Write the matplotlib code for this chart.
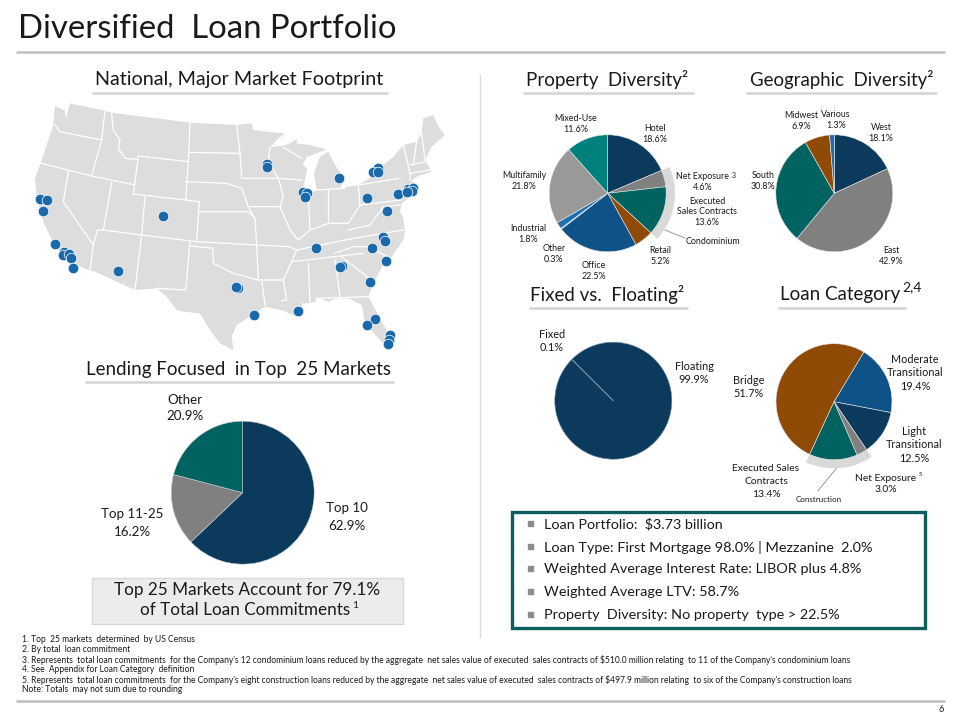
import matplotlib
matplotlib.use('Agg')
import matplotlib.pyplot as plt

plt.rcParams['font.family'] = ['Lato', 'DejaVu Sans']

NAVY = '#0b3a5c'
GRIS = '#808080'
TEAL = '#00635f'
CAFE = '#8f4a05'
AZUL = '#0f5287'
RULE = '#d4d4d4'

# pies
prop_labels = ['Hotel', 'Net Exposure', 'Executed Sales Contracts', 'Retail', 'Office',
               'Other', 'Industrial', 'Multifamily', 'Mixed-Use']
prop_values = [18.6, 4.6, 13.6, 5.2, 22.5, 0.3, 1.8, 21.8, 11.6]
prop_colors = [NAVY, GRIS, TEAL, CAFE, AZUL, '#5a7f9c', '#1f6fb0', '#999999', '#00807d']

geo_labels = ['West', 'East', 'South', 'Midwest', 'Various']
geo_values = [18.1, 42.9, 30.8, 6.9, 1.3]
geo_colors = [NAVY, GRIS, TEAL, CAFE, '#1f6fb0']

rate_labels = ['Floating', 'Fixed']
rate_values = [99.9, 0.1]

cat_labels = ['Moderate Transitional', 'Light Transitional', 'Net Exposure',
              'Executed Sales Contracts', 'Bridge']
cat_values = [19.4, 12.5, 3.0, 13.4, 51.7]
cat_colors = [AZUL, NAVY, GRIS, TEAL, CAFE]

market_labels = ['Top 10', 'Top 11-25', 'Other']
market_values = [62.9, 16.2, 20.9]
market_colors = [NAVY, GRIS, TEAL]

summary = ['Loan Portfolio:  $3.73 billion',
           'Loan Type: First Mortgage 98.0% | Mezzanine  2.0%',
           'Weighted Average Interest Rate: LIBOR plus 4.8%',
           'Weighted Average LTV: 58.7%',
           'Property  Diversity: No property  type > 22.5%']

notes = ['1. Top  25 markets  determined  by US Census',
         '2. By total  loan commitment',
         "3. Represents  total loan commitments  for the Company's 12 condominium loans reduced by the aggregate  net sales value of executed  sales contracts of $510.0 million relating  to 11 of the Company's condominium loans",
         '4. See  Appendix for Loan Category  definition',
         "5. Represents  total loan commitments  for the Company's eight construction loans reduced by the aggregate  net sales value of executed  sales contracts of $497.9 million relating  to six of the Company's construction loans",
         'Note: Totals  may not sum due to rounding']

# map, in units of a 1320x810 sheet
us_outline = [
    (150, 40), (255, 62), (275, 68), (510, 98), (650, 105), (695, 100), (700, 120), (740, 125), (795, 130),
    (770, 150), (750, 172), (800, 165), (830, 148), (830, 160), (870, 165), (920, 178), (885, 192), (860, 200),
    (848, 225), (862, 235), (848, 300), (870, 312), (890, 300), (882, 250), (900, 200), (925, 185), (945, 225),
    (975, 265), (960, 295), (1015, 285), (1055, 262), (1062, 238), (1090, 225), (1120, 200), (1150, 165),
    (1190, 155), (1205, 130), (1210, 85), (1240, 75), (1255, 110), (1275, 135), (1235, 170), (1215, 210),
    (1235, 245), (1195, 258), (1172, 272), (1195, 285), (1170, 320), (1145, 340), (1140, 365), (1150, 385),
    (1155, 425), (1150, 450), (1115, 500), (1090, 525), (1065, 570), (1045, 620), (1085, 695), (1115, 745),
    (1105, 775), (1075, 745), (1035, 700), (1025, 645), (985, 625), (950, 625), (925, 635), (890, 622),
    (885, 635), (870, 640), (845, 640), (850, 675), (830, 680), (790, 662), (735, 650), (690, 680), (650, 705),
    (635, 740), (640, 780), (600, 760), (570, 720), (540, 670), (490, 665), (470, 660), (440, 620), (410, 595),
    (345, 600), (225, 545), (205, 540), (155, 520), (105, 470), (70, 395), (50, 320), (45, 265), (60, 225),
    (100, 105), (105, 48), (135, 62), (138, 85),
]
us_x = [p[0] for p in us_outline]
us_y = [p[1] for p in us_outline]

borders = [
    [(105, 105), (120, 125), (245, 150)],
    [(255, 62), (245, 150), (215, 258)],
    [(55, 218), (215, 258), (345, 285)],
    [(275, 68), (280, 120), (300, 150), (295, 175), (315, 205), (350, 208)],
    [(355, 198), (340, 312), (497, 330)],
    [(355, 198), (505, 215)],
    [(510, 98), (505, 215), (497, 330), (538, 335), (530, 455), (365, 435), (375, 320)],
    [(275, 278), (250, 420), (365, 435), (345, 600)],
    [(145, 245), (130, 335), (220, 465), (210, 540)],
    [(250, 420), (232, 420), (220, 465)],
    [(510, 455), (497, 600), (410, 595)],
    [(510, 468), (578, 475), (580, 520), (640, 550), (715, 570), (725, 570), (735, 645)],
    [(530, 455), (710, 465), (715, 570)],
    [(535, 365), (685, 365), (705, 385), (710, 465)],
    [(497, 275), (620, 280), (665, 295), (685, 350), (705, 385)],
    [(505, 187), (660, 190)],
    [(650, 105), (660, 190), (665, 265), (775, 265), (790, 320), (780, 350), (685, 350)],
    [(750, 172), (745, 215), (775, 265), (845, 270)],
    [(790, 172), (845, 205)],
    [(780, 350), (810, 420), (835, 450), (870, 420), (865, 310)],
    [(925, 300), (925, 400)],
    [(890, 300), (975, 295)],
    [(870, 420), (925, 400), (985, 400), (1020, 345), (1015, 285), (1140, 265)],
    [(1020, 345), (1145, 330)],
    [(1150, 165), (1170, 250), (1170, 270)],
    [(1190, 155), (1180, 225)],
    [(1205, 130), (1215, 210)],
    [(1170, 225), (1215, 215)],
    [(1170, 250), (1230, 240)],
    [(830, 480), (1000, 445), (1150, 420)],
    [(985, 420), (1050, 405), (1090, 350), (1140, 345)],
    [(710, 465), (805, 470), (830, 480), (815, 515), (790, 570), (725, 570)],
    [(815, 515), (1030, 490)],
    [(790, 570), (800, 630), (785, 632)],
    [(865, 520), (870, 640)],
    [(945, 510), (960, 620)],
    [(890, 625), (1045, 620)],
    [(945, 490), (1000, 470), (1040, 470), (1115, 505)],
    [(965, 500), (1060, 575)],
]

city_x = [60, 80, 70, 105, 133, 130, 147, 152, 160, 293, 429, 655, 648, 703, 835, 740, 742, 850, 860, 855,
          887, 958, 1073, 1060, 1075, 1040, 1135, 1165, 1180, 1175, 1160, 1102, 1088, 1095, 1055, 1097,
          965, 960, 1049, 1065, 1040, 1110, 1108, 1103]
city_y = [328, 330, 362, 461, 485, 495, 492, 503, 533, 542, 377, 593, 590, 676, 662, 222, 232, 305, 310, 320,
          473, 265, 235, 245, 245, 323, 313, 298, 293, 303, 305, 362, 440, 452, 475, 514,
          528, 530, 577, 686, 705, 735, 750, 761]

fig = plt.figure(figsize=(9.6, 7.2), dpi=100)
page = fig.add_axes([0, 0, 1, 1])
page.set_xlim(0, 960)
page.set_ylim(720, 0)
page.axis('off')


def rule(x0, x1, y, color=RULE, lw=1.8):
    page.plot([x0, x1], [y, y], color=color, lw=lw, solid_capstyle='butt')


def label(x, y, s, size=6.4, ha='center', ls=1.15):
    page.text(x, y, s, fontsize=size, ha=ha, va='center', color='#1a1a1a', linespacing=ls, zorder=5)


def pie_at(cx, cy, r, values, colors, start=90, edge='#e8e8e8', halo=None):
    pad = 1.25
    ax = fig.add_axes([(cx - r * pad) / 960, 1 - (cy + r * pad) / 720, 2 * r * pad / 960, 2 * r * pad / 720])
    ax.set_zorder(2)
    if halo:
        halo_colors = ['#d9d9d9' if i in halo else (0, 0, 0, 0) for i in range(len(values))]
        ax.pie(values, colors=halo_colors, startangle=start, counterclock=False, radius=1.15)
    ax.pie(values, colors=colors, startangle=start, counterclock=False, radius=1,
           wedgeprops={'edgecolor': edge, 'linewidth': 0.4})
    ax.set_xlim(-pad, pad)
    ax.set_ylim(-pad, pad)


# frame rules
rule(16, 945, 52, '#bfbfbf', 1.8)
rule(16, 945, 701, '#bfbfbf', 1.8)
page.plot([480, 480], [75, 637], color='#dcdcdc', lw=1)
page.text(18, 29, 'Diversified  Loan Portfolio', fontsize=23.7, va='center', color='#1a1a1a')
label(941, 709, '6', 6.5)

# section heads
rule(92, 388, 93)
label(239.5, 79.5, 'National, Major Market Footprint', 14.2)
rule(523, 694, 93)
label(607, 79.5, 'Property  Diversity²', 13.5)
rule(746, 937, 93)
label(841.5, 79.5, 'Geographic  Diversity²', 13.4)
rule(529, 688, 308)
label(607.5, 294.5, 'Fixed vs.  Floating²', 13.5)
rule(778, 906, 308)
label(840, 294.5, 'Loan Category', 13.5)
label(912, 287, '2,4', 10)
rule(85, 394, 382)
label(238.5, 369.5, 'Lending Focused  in Top  25 Markets', 13.5)

# map
us = fig.add_axes([20 / 960, 1 - 360 / 720, 440 / 960, 270 / 720])
us.set_xlim(0, 1320)
us.set_ylim(810, 0)
us.axis('off')
us.fill(us_x, us_y, color='#dddddd', lw=0)
for b in borders:
    us.plot([p[0] for p in b], [p[1] for p in b], color='white', lw=0.9)
us.scatter(city_x, city_y, s=58, color='#1a6aab', edgecolor='white', linewidth=0.5, zorder=3)

# pies
pie_at(607.7, 193.3, 58.5, prop_values, prop_colors, halo=[1, 2])
pie_at(834.3, 193.3, 58.5, geo_values, geo_colors)
pie_at(613.3, 400.7, 58.5, rate_values, [NAVY, NAVY], start=135, edge='#6f8ba0')
pie_at(834, 401.7, 58, cat_values, cat_colors, start=59, halo=[2, 3])
pie_at(242.7, 492.7, 71.5, market_values, market_colors, edge='#c8d0d6')

page.plot([665, 685], [230, 238], color='#999999', lw=0.7)
page.plot([836.7, 818], [468, 490.7], color='#999999', lw=0.7)

# property labels
label(655, 134, 'Hotel\n18.6%')
label(703, 182, 'Net Exposure\n4.6%')
label(734, 175, '3', 5)
label(707, 212, 'Executed\nSales Contracts\n13.6%')
label(713, 241, 'Condominium')
label(660, 256, 'Retail\n5.2%')
label(594, 271, 'Office\n22.5%')
label(554, 254, 'Other\n0.3%')
label(528, 234, 'Industrial\n1.8%')
label(524, 181, 'Multifamily\n21.8%')
label(576, 124, 'Mixed-Use\n11.6%')

# geographic labels
label(801, 121, 'Midwest\n6.9%')
label(836, 120, 'Various\n1.3%')
label(881, 133, 'West\n18.1%')
label(891, 256, 'East\n42.9%')
label(763, 181, 'South\n30.8%')

# rate labels
label(552, 341, 'Fixed\n0.1%', 7.8, ls=1.3)
label(694, 373, 'Floating\n99.9%', 7.8, ls=1.3)

# category labels
label(749, 387, 'Bridge\n51.7%', 7.8, ls=1.3)
label(915, 373, 'Moderate\nTransitional\n19.4%', 7.8, ls=1.3)
label(914, 445, 'Light\nTransitional\n12.5%', 7.8, ls=1.3)
label(886, 484, 'Net Exposure\n3.0%', 7.4, ls=1.3)
label(920.5, 475, '5', 4)
label(766, 468.5, 'Executed Sales', 7.4)
label(766, 481.5, 'Contracts', 7.4)
label(766, 494.5, '13.4%', 7.4)
label(819, 499, 'Construction', 5.8)

# market labels
label(185, 408, 'Other\n20.9%', 9.6, ls=1.5)
label(347, 517, 'Top 10\n62.9%', 9.6, ls=1.5)
label(132, 523, 'Top 11-25\n16.2%', 9.6, ls=1.5)

page.add_patch(plt.Rectangle((91.7, 577.7), 311.3, 46.3, fc='#ececec', ec='#d9d9d9', lw=1))
label(247.5, 590, 'Top 25 Markets Account for 79.1%', 12.3)
label(245, 610, 'of Total Loan Commitments', 12.3)
label(355, 605, '1', 7.5)

# summary box
page.add_patch(plt.Rectangle((511.7, 512), 413.3, 116, fc='white', ec='#0e5e5e', lw=2.4))
for line, y in zip(summary, [524, 547, 569, 592, 615]):
    page.plot([529.5], [y - 1], marker='s', ms=3.6, color='#8c8c8c')
    label(544, y, line, 10.4, ha='left')

# footnotes
for line, y in zip(notes, [640, 650, 660, 670, 680, 690]):
    label(22, y, line, 6.15, ha='left')

fig.savefig('out.png', dpi=100)
